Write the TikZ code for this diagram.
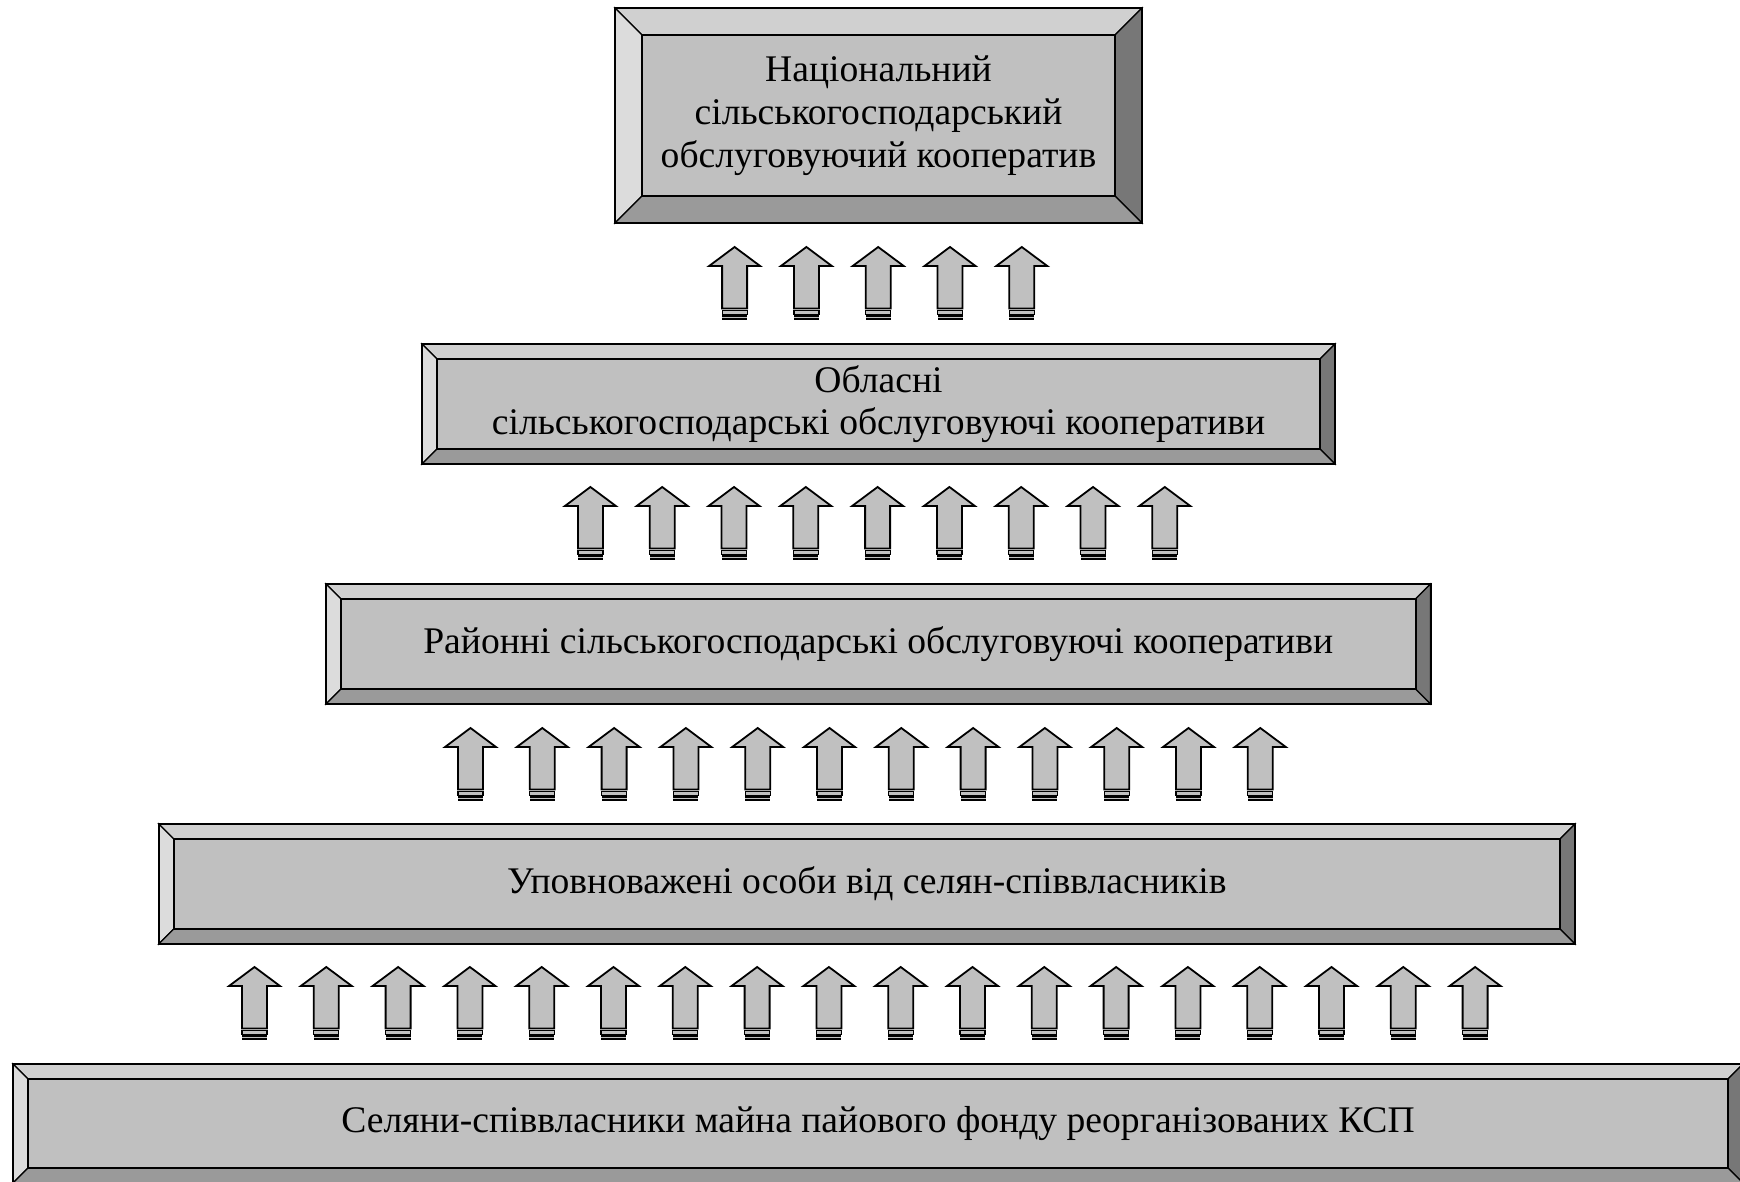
\documentclass[tikz,border=0pt]{standalone}
\usepackage{fontspec}
\setmainfont{Liberation Serif}
\definecolor{facec}{HTML}{C0C0C0}
\definecolor{bevT}{HTML}{D0D0D0}
\definecolor{bevL}{HTML}{DCDCDC}
\definecolor{bevR}{HTML}{777777}
\definecolor{bevB}{HTML}{9A9A9A}
\definecolor{arrc}{HTML}{C0C0C0}
\tikzset{
  edge/.style={draw=black,line width=0.6pt,line join=miter},
  outer/.style={draw=black,line width=1pt},
  boxtext/.style={align=center,font=\fontsize{18.8}{21.4}\selectfont,inner sep=0pt},
  arrbody/.style={fill=arrc,draw=black,line width=0.9pt,line join=miter},
  arrband/.style={fill=arrc,draw=black,line width=0.6pt},
}
% name, x1, y1, x2, y2, bevel, text
\newcommand\bevbox[7]{%
  \filldraw[edge,fill=bevT] (#2,#3) -- (#4,#3) -- (#4-#6,#3+#6) -- (#2+#6,#3+#6) -- cycle;
  \filldraw[edge,fill=bevL] (#2,#3) -- (#2+#6,#3+#6) -- (#2+#6,#5-#6) -- (#2,#5) -- cycle;
  \filldraw[edge,fill=bevR] (#4,#3) -- (#4,#5) -- (#4-#6,#5-#6) -- (#4-#6,#3+#6) -- cycle;
  \filldraw[edge,fill=bevB] (#2,#5) -- (#2+#6,#5-#6) -- (#4-#6,#5-#6) -- (#4,#5) -- cycle;
  \filldraw[fill=facec,draw=black,line width=1pt] (#2+#6,#3+#6) rectangle (#4-#6,#5-#6);
  \draw[outer] (#2,#3) rectangle (#4,#5);
  \node[boxtext] (#1) at ({(#2+#4)/2},{(#3+#5)/2}) {#7};
}
% centre x, tip y
\newcommand\uparr[2]{%
  \begin{scope}[shift={(#1,#2)}]
    \filldraw[arrbody] (-12.5,61.5) -- (-12.5,19) -- (-25.5,19) -- (0,0) -- (25.5,19) -- (12.5,19) -- (12.5,61.5) -- cycle;
    \filldraw[arrband] (-12.5,63.2) rectangle (12.5,67.8);
    \fill[black] (-12.5,68.4) rectangle (12.5,73.4);
    \fill[arrc] (-12.5,70.4) rectangle (12.5,71.0);
  \end{scope}}
\begin{document}
\begin{tikzpicture}[x=0.5pt,y=-0.5pt]
\useasboundingbox (0,0) rectangle (1740,1182);
\clip (0,0) rectangle (1740,1182);
\fill[white] (0,0) rectangle (1740,1182);

\bevbox{nat}{615}{8}{1142}{223}{27}{Національний\\сільськогосподарський\\обслуговуючий кооператив}
\bevbox{obl}{422}{344}{1335}{464}{15}{Обласні\\сільськогосподарські обслуговуючі кооперативи}
\bevbox{ray}{326}{584}{1430.5}{704}{15}{Районні сільськогосподарські обслуговуючі кооперативи}
\bevbox{upo}{158.7}{824}{1575}{944}{15}{Уповноважені особи від селян-співвласників}
\bevbox{sel}{13}{1064}{1743}{1183}{15}{Селяни-співвласники майна пайового фонду реорганізованих КСП}

\foreach \i in {0,...,4} {\uparr{734.6+\i*71.8}{247}}
\foreach \i in {0,...,8} {\uparr{590.4+\i*71.8}{487}}
\foreach \i in {0,...,11} {\uparr{470.5+\i*71.8}{728}}
\foreach \i in {0,...,17} {\uparr{254.5+\i*71.8}{967}}
\end{tikzpicture}
\end{document}
